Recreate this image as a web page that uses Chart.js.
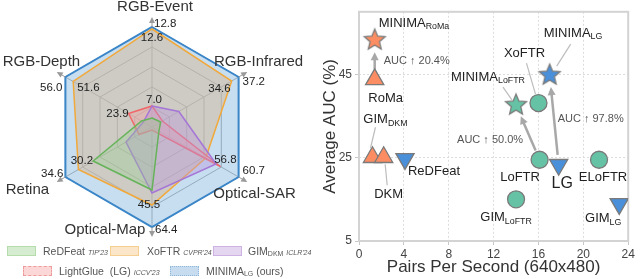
<!DOCTYPE html>
<html>
<head>
<meta charset="utf-8">
<script src="https://cdn.jsdelivr.net/npm/chart.js@4.4.1/dist/chart.umd.min.js"></script>
<style>
  body { margin: 0; background: #fff; }
  #wrap { position: relative; width: 640px; height: 279px; overflow: hidden; font-family: "Liberation Sans", Arial, sans-serif; }
  #radar { position: absolute; left: 0; top: 0; }
  #scatter { position: absolute; left: 310px; top: 0; }
  .box { position: absolute; width: 29px; height: 10px; box-sizing: border-box; }
  .lg { position: absolute; font-size: 10.5px; line-height: 12px; color: #555; white-space: nowrap; }
  .lg i { font-size: 7px; }
  .lg sub { font-size: 7px; vertical-align: -1px; }
</style>
</head>
<body>
<div id="wrap">
  <canvas id="radar" width="310" height="254"></canvas>
  <canvas id="scatter" width="330" height="279"></canvas>

  <div class="box" style="left:7px;top:246px;background:#d6ecd1;border:1px solid #b5dcab"></div>
  <div class="lg" style="left:43px;top:245px">ReDFeat <i>TIP'23</i></div>
  <div class="box" style="left:110px;top:246px;background:#fce6c9;border:1px solid #f5cf91"></div>
  <div class="lg" style="left:147px;top:245px">XoFTR <i>CVPR'24</i></div>
  <div class="box" style="left:213px;top:246px;background:#e4d5f0;border:1px solid #cdb3e4"></div>
  <div class="lg" style="left:248px;top:245px">GIM<sub>DKM</sub> <i>ICLR'24</i></div>

  <div class="box" style="left:23px;top:266px;background:#fcd7d7;border:1px dashed #ef9b9b"></div>
  <div class="lg" style="left:59px;top:265px">LightGlue&nbsp; (LG) <i>ICCV'23</i></div>
  <div class="box" style="left:170px;top:266px;background:#c7ddef;border:1px dotted #8fb7dc"></div>
  <div class="lg" style="left:206px;top:265px">MINIMA<sub>LG</sub> (ours)</div>
</div>

<script>
// ---- radar data (position along each axis, 0 = centre, 100 = outer ring) ----
const radarAxes = ['RGB-Event', 'RGB-Infrared', 'Optical-SAR', 'Optical-Map', 'Retina', 'RGB-Depth'];
const redfeatRadar = [9, 10, 8, 63, 68, 12];
const gimDkmRadar = [21, 31, 74, 66, 30, 10];
const lightglueRadar = [21, 12, 79, 3, 15, 27];
const xoftrRadar = [98, 92, 62, 78, 85, 91];
const minimaRadar = [100, 100, 100, 100, 100, 100];
// AUC numbers printed on the radar
const minimaScores = ['12.8', '37.2', '60.7', '64.4', '34.6', '56.0'];
const xoftrScores = ['12.6', '34.6', null, '45.5', null, '51.6'];
const lightglueScores = ['7.0', null, '56.8', null, null, '23.9'];
const redfeatScores = [null, null, null, null, '30.2', null];

// ---- scatter data ----
const methods = ['MINIMA_RoMa', 'RoMa', 'GIM_DKM', 'DKM', 'ReDFeat', 'XoFTR', 'MINIMA_LoFTR',
                 'MINIMA_LG', 'LoFTR', 'LG', 'ELoFTR', 'GIM_LoFTR', 'GIM_LG'];
const pairsPerSecond = [1.4, 1.4, 1.2, 2.2, 4.1, 16.0, 14.0, 17.0, 16.1, 17.8, 21.4, 14.0, 23.2];
const avgAUC = [53.2, 43.8, 25.1, 25.1, 24.7, 38.1, 37.6, 44.8, 24.5, 23.3, 24.5, 15.0, 13.9];
const markerKind = ['star', 'up', 'up', 'up', 'down', 'circle', 'star', 'star', 'circle', 'down', 'circle', 'circle', 'down'];
const markerFamily = ['roma', 'roma', 'roma', 'roma', 'lg', 'loftr', 'loftr', 'lg', 'loftr', 'lg', 'loftr', 'loftr', 'lg'];
const xTicks = [0, 4, 8, 12, 16, 20, 24];
const yTicks = [5, 25, 45];
const gainPairs = [['RoMa', 'MINIMA_RoMa'], ['LoFTR', 'MINIMA_LoFTR'], ['LG', 'MINIMA_LG']];
const gainText = ['20.4%', '50.0%', '97.8%'];

const FONT = '"Liberation Sans", Arial, sans-serif';
const familyColor = { roma: '#fc8d62', loftr: '#66c2a5', lg: '#4a8fd9' };

// radar: axis arrows, axis names and numbers
const radarText = {
    id: 'radarText',
    afterDatasetsDraw(chart) {
        const s = chart.scales.r;
        const ctx = chart.ctx;
        ctx.save();
        // arrow heads beyond the outer ring
        ctx.strokeStyle = '#9a9a9a';
        ctx.fillStyle = '#9a9a9a';
        ctx.lineWidth = 1;
        radarAxes.forEach((a, i) => {
            const p0 = s.getPointPositionForValue(i, 100);
            const p1 = s.getPointPositionForValue(i, 108);
            ctx.beginPath();
            ctx.moveTo(p0.x, p0.y);
            ctx.lineTo(p1.x, p1.y);
            ctx.stroke();
            const ang = Math.atan2(p1.y - p0.y, p1.x - p0.x);
            ctx.beginPath();
            ctx.moveTo(p1.x + Math.cos(ang) * 2, p1.y + Math.sin(ang) * 2);
            ctx.lineTo(p1.x - Math.cos(ang) * 4 - Math.sin(ang) * 3, p1.y - Math.sin(ang) * 4 + Math.cos(ang) * 3);
            ctx.lineTo(p1.x - Math.cos(ang) * 4 + Math.sin(ang) * 3, p1.y - Math.sin(ang) * 4 - Math.cos(ang) * 3);
            ctx.closePath();
            ctx.fill();
        });

        // axis names
        const nameOffset = [[3, -20], [20, -15], [16, 17], [-47, 3], [-38, 13], [-24, -15]];
        ctx.font = '15px ' + FONT;
        ctx.fillStyle = '#333';
        ctx.textAlign = 'center';
        ctx.textBaseline = 'middle';
        radarAxes.forEach((a, i) => {
            const p = s.getPointPositionForValue(i, 100);
            ctx.fillText(a, p.x + nameOffset[i][0], p.y + nameOffset[i][1]);
        });

        // numbers
        ctx.font = '11.5px ' + FONT;
        ctx.fillStyle = '#222';
        const put = (txt, axis, val, dx, dy, align) => {
            if (!txt) return;
            const p = s.getPointPositionForValue(axis, val);
            ctx.textAlign = align;
            ctx.fillText(txt, p.x + dx, p.y + dy);
        };
        const minimaOff = [[2, -3, 'left'], [4, 5, 'left'], [4, -6, 'left'], [3, 3, 'left'], [-2, -3, 'right'], [-3, 11, 'right']];
        minimaScores.forEach((t, i) => put(t, i, minimaRadar[i], ...minimaOff[i]));
        const xoftrOff = [[0, 9, 'center'], [-1, 8, 'right'], null, [-3, 0, 'center'], null, [4, 6, 'left']];
        xoftrScores.forEach((t, i) => t && put(t, i, xoftrRadar[i], ...xoftrOff[i]));
        const lgOff = [[2, -6, 'center'], null, [5, -7, 'center'], null, null, [0, 0, 'right']];
        lightglueScores.forEach((t, i) => t && put(t, i, lightglueRadar[i], ...lgOff[i]));
        redfeatScores.forEach((t, i) => t && put(t, i, redfeatRadar[i], 0, 0, 'right'));
        ctx.restore();
    }
};

new Chart(document.getElementById('radar').getContext('2d'), {
    type: 'radar',
    data: {
        labels: radarAxes,
        datasets: [
            { data: redfeatRadar, borderColor: '#66b35a', backgroundColor: 'rgba(150,205,140,0.35)' },
            { data: gimDkmRadar, borderColor: '#a576d6', backgroundColor: 'rgba(185,150,220,0.4)' },
            { data: lightglueRadar, borderColor: '#f0686a', backgroundColor: 'rgba(245,160,160,0.4)' },
            { data: xoftrRadar, borderColor: '#f2a93b', backgroundColor: 'rgba(212,186,152,0.5)' },
            { data: minimaRadar, borderColor: '#3a86c8', backgroundColor: 'rgba(130,180,222,0.45)', borderWidth: 2 }
        ]
    },
    options: {
        responsive: false,
        animation: false,
        layout: { padding: { left: 27, right: 33, top: 27, bottom: 27 } },
        elements: {
            line: { borderWidth: 1.5, tension: 0, fill: true },
            point: { radius: 0, hoverRadius: 0 }
        },
        plugins: { legend: { display: false }, tooltip: { enabled: false } },
        scales: {
            r: {
                min: 0,
                max: 100,
                ticks: { display: false, stepSize: 20 },
                pointLabels: { display: false },
                grid: { color: '#a3a3a3', lineWidth: 1 },
                angleLines: { color: '#a3a3a3', lineWidth: 1 }
            }
        }
    },
    plugins: [radarText]
});

// filled star used as point style
function starImage(fill, R) {
    const c = document.createElement('canvas');
    const s = Math.ceil(R * 2 + 4);
    c.width = s; c.height = s;
    const g = c.getContext('2d');
    g.beginPath();
    for (let k = 0; k < 10; k++) {
        const r = k % 2 ? R * 0.45 : R;
        const a = -Math.PI / 2 + k * Math.PI / 5;
        g.lineTo(s / 2 + r * Math.cos(a), s / 2 + r * Math.sin(a));
    }
    g.closePath();
    g.fillStyle = fill;
    g.fill();
    g.strokeStyle = '#7a7a7a';
    g.lineWidth = 1.3;
    g.stroke();
    return c;
}
const stars = {};
Object.keys(familyColor).forEach(k => stars[k] = starImage(familyColor[k], 11));

// label placement relative to each point (pixels)
const labelPos = {
    MINIMA_RoMa: { dx: 4, dy: -17, align: 'left' },
    RoMa: { dx: 11, dy: 19.5, align: 'center' },
    GIM_DKM: { dx: 13, dy: -38, align: 'center', lead: [3, -30, -2, -9] },
    DKM: { dx: 5, dy: 37, align: 'center', lead: [1.5, 7, 3.5, 28] },
    ReDFeat: { dx: 29, dy: 13, align: 'center' },
    XoFTR: { dx: -14, dy: -50, align: 'center', lead: [-12, -40, -3, -9] },
    MINIMA_LoFTR: { dx: -65, dy: -28, align: 'left', lead: [-13, -18, -4, -5] },
    MINIMA_LG: { dx: -6, dy: -42, align: 'left', lead: [21, -31, 7, -9] },
    LoFTR: { dx: -19.5, dy: 17.5, align: 'center' },
    LG: { dx: 3.5, dy: 19, align: 'center', size: 16 },
    ELoFTR: { dx: 4, dy: 18, align: 'center' },
    GIM_LoFTR: { dx: -10, dy: 18, align: 'center' },
    GIM_LG: { dx: -16, dy: 15, align: 'center' }
};
const gainPos = [[9, -18], [-82.5, -19.5], [-1, -46]];

function drawName(ctx, name, x, y, align, size) {
    const parts = name.split('_');
    const main = parts[0], sub = parts[1] || '';
    ctx.font = size + 'px ' + FONT;
    const w1 = ctx.measureText(main).width;
    ctx.font = (size * 0.68) + 'px ' + FONT;
    const w2 = sub ? ctx.measureText(sub).width : 0;
    let left = x;
    if (align === 'center') left = x - (w1 + w2) / 2;
    ctx.textAlign = 'left';
    ctx.textBaseline = 'middle';
    ctx.font = size + 'px ' + FONT;
    ctx.fillText(main, left, y);
    if (sub) {
        ctx.font = (size * 0.68) + 'px ' + FONT;
        ctx.fillText(sub, left + w1, y + size * 0.3);
    }
}

const scatterDeco = {
    id: 'scatterDeco',
    beforeDatasetsDraw(chart) {
        const { ctx, chartArea: a, scales: { x, y } } = chart;
        ctx.save();
        ctx.strokeStyle = '#d3d3d3';
        ctx.lineWidth = 2;
        ctx.strokeRect(a.left, a.top, a.right - a.left, a.bottom - a.top);
        // improvement arrows
        ctx.strokeStyle = '#a8a8a8';
        ctx.fillStyle = '#a8a8a8';
        ctx.lineWidth = 2.5;
        gainPairs.forEach(([from, to]) => {
            const i = methods.indexOf(from), j = methods.indexOf(to);
            const px = x.getPixelForValue(pairsPerSecond[i]), py = y.getPixelForValue(avgAUC[i]);
            const qx = x.getPixelForValue(pairsPerSecond[j]), qy = y.getPixelForValue(avgAUC[j]);
            const len = Math.hypot(qx - px, qy - py);
            const ux = (qx - px) / len, uy = (qy - py) / len;
            const sx = px + ux * 10, sy = py + uy * 10;
            const ex = qx - ux * 12, ey = qy - uy * 12;
            ctx.beginPath();
            ctx.moveTo(sx, sy);
            ctx.lineTo(ex - ux * 6, ey - uy * 6);
            ctx.stroke();
            ctx.beginPath();
            ctx.moveTo(ex, ey);
            ctx.lineTo(ex - ux * 8 - uy * 4, ey - uy * 8 + ux * 4);
            ctx.lineTo(ex - ux * 8 + uy * 4, ey - uy * 8 - ux * 4);
            ctx.closePath();
            ctx.fill();
        });
        ctx.restore();
    },
    afterDatasetsDraw(chart) {
        const { ctx, scales: { x, y } } = chart;
        ctx.save();
        methods.forEach((m, i) => {
            const px = x.getPixelForValue(pairsPerSecond[i]), py = y.getPixelForValue(avgAUC[i]);
            const lp = labelPos[m];
            if (lp.lead) {
                ctx.strokeStyle = '#bdbdbd';
                ctx.lineWidth = 1.2;
                ctx.beginPath();
                ctx.moveTo(px + lp.lead[0], py + lp.lead[1]);
                ctx.lineTo(px + lp.lead[2], py + lp.lead[3]);
                ctx.stroke();
            }
            ctx.fillStyle = '#222';
            drawName(ctx, m, px + lp.dx, py + lp.dy, lp.align, lp.size || 13);
        });
        ctx.font = '11px ' + FONT;
        ctx.fillStyle = '#555';
        ctx.textAlign = 'left';
        ctx.textBaseline = 'middle';
        gainPairs.forEach(([from], k) => {
            const i = methods.indexOf(from);
            const px = x.getPixelForValue(pairsPerSecond[i]), py = y.getPixelForValue(avgAUC[i]);
            ctx.fillText('AUC \u2191 ' + gainText[k], px + gainPos[k][0], py + gainPos[k][1]);
        });
        ctx.restore();
    }
};

new Chart(document.getElementById('scatter').getContext('2d'), {
    type: 'scatter',
    data: {
        datasets: [{
            data: methods.map((m, i) => ({ x: pairsPerSecond[i], y: avgAUC[i] })),
            pointStyle: markerKind.map((k, i) => k === 'star' ? stars[markerFamily[i]] : (k === 'circle' ? 'circle' : 'triangle')),
            rotation: markerKind.map(k => k === 'down' ? 180 : 0),
            radius: markerKind.map(k => k === 'circle' ? 8.5 : 10.5),
            hoverRadius: markerKind.map(k => k === 'circle' ? 8.5 : 10.5),
            backgroundColor: markerFamily.map(f => familyColor[f]),
            borderColor: '#7a7a7a',
            borderWidth: 1.3
        }]
    },
    options: {
        responsive: false,
        animation: false,
        layout: { padding: { top: 2, right: 5, left: 0, bottom: 0 } },
        plugins: { legend: { display: false }, tooltip: { enabled: false } },
        scales: {
            x: {
                type: 'linear',
                min: 0,
                max: 24,
                afterBuildTicks: s => { s.ticks = xTicks.map(v => ({ value: v })); },
                afterFit: s => { s.height = 38; },
                ticks: { font: { size: 12, family: FONT }, color: '#444', padding: 2 },
                grid: { color: '#dcdcdc', lineWidth: 1, tickLength: 4, tickColor: '#c8c8c8' },
                border: { display: false, dash: [2, 2] },
                title: { display: true, text: 'Pairs Per Second (640x480)', font: { size: 17, family: FONT }, color: '#333', padding: { top: 0, bottom: 1 } }
            },
            y: {
                min: 5,
                max: 60,
                afterBuildTicks: s => { s.ticks = yTicks.map(v => ({ value: v })); },
                afterFit: s => { s.width = 49; },
                ticks: { font: { size: 12, family: FONT }, color: '#444', padding: 3 },
                grid: { color: '#dcdcdc', lineWidth: 1, tickLength: 4, tickColor: '#c8c8c8' },
                border: { display: false, dash: [2, 2] },
                title: { display: true, text: 'Average AUC (%)', font: { size: 17, family: FONT }, color: '#333', padding: { top: 10, bottom: 0 } }
            }
        }
    },
    plugins: [scatterDeco]
});
</script>
</body>
</html>
